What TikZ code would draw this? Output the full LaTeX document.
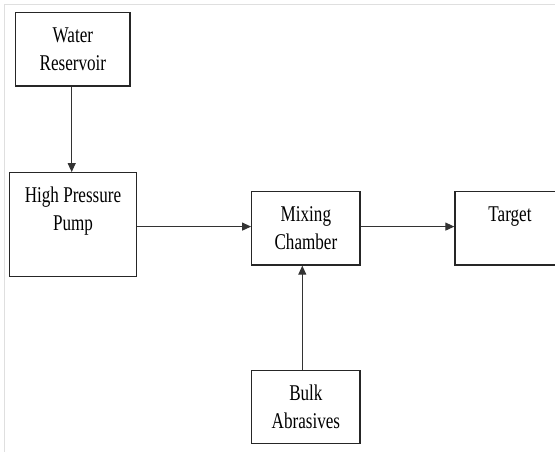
\documentclass[tikz,border=0pt]{standalone}
\usepackage{fontspec}
\setmainfont{Liberation Serif}[FakeStretch=0.76]
\usetikzlibrary{arrows.meta}

\begin{document}
\begin{tikzpicture}[x=1pt,y=1pt,>={Triangle[length=9pt,width=8pt]},
    blockbox/.style={draw=black!85,line width=1.3pt,inner sep=0pt},
    blocktext/.style={anchor=north,inner sep=0pt,align=center,yshift=-15pt,
      font=\fontsize{22.5}{28}\selectfont},
    flow/.style={->,draw=black!80,line width=1.1pt}]
        \useasboundingbox (0,0) rectangle (555,452);
        \clip (0,0) rectangle (555,452);
        % faint page frame
        \draw[gray!25] (4,0) |- (555,447.7);
        \node[blockbox,minimum width=114.3pt,minimum height=73.3pt,
          label={[blocktext]north:Water\\Reservoir}] (water) at (72.9,402.6) {};
        \node[blockbox,minimum width=127.4pt,minimum height=104pt,
          label={[blocktext]north:High Pressure\\Pump}] (pump) at (73,227.3) {};
        \node[blockbox,minimum width=108.3pt,minimum height=73.3pt,
          label={[blocktext]north:Mixing\\Chamber}] (mix) at (305.9,223.6) {};
        \node[blockbox,minimum width=110pt,minimum height=73.3pt,
          label={[blocktext]north:Target}] (target) at (510,223.6) {};
        \node[blockbox,minimum width=108.3pt,minimum height=72.6pt,
          label={[blocktext]north:Bulk\\Abrasives}] (bulk) at (305.9,45) {};
        \coordinate (flowline) at (0,225.4);
        \draw[flow] (water.south -| 71.7,0) -- (pump.north -| 71.7,0);
        \draw[flow] (pump.east |- flowline) -- (mix.west |- flowline);
        \draw[flow] (mix.east |- flowline) -- (target.west |- flowline);
        \draw[flow] (bulk.north -| 302.3,0) -- (mix.south -| 302.3,0);
    \end{tikzpicture}
\end{document}
